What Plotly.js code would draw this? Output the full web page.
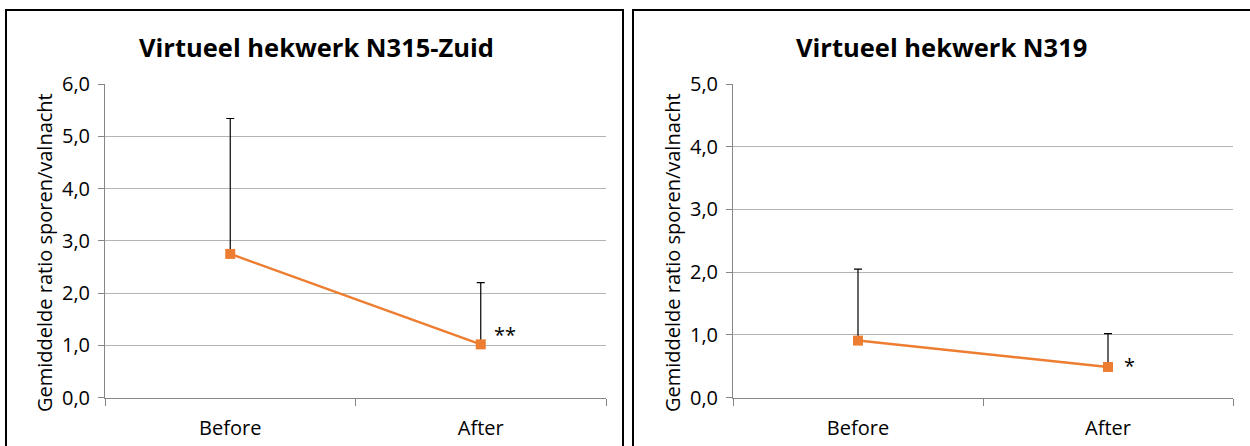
<!DOCTYPE html>
<html>
<head>
<meta charset="utf-8">
<script src="https://cdn.plot.ly/plotly-3.0.1.min.js"></script>
<style>
  html, body { margin: 0; padding: 0; background: #ffffff; }
  #chart { width: 1250px; height: 446px; }
</style>
</head>
<body>
<div id="chart"></div>
<script>
// Periods compared on both fences
const periods = ['Before', 'After'];

// Virtueel hekwerk N315-Zuid: mean ratio tracks / nights, with upper error
const n315Mean = [2.75, 1.02];
const n315ErrUp = [2.59, 1.18];
const n315Marks = ['', '**'];

// Virtueel hekwerk N319
const n319Mean = [0.91, 0.49];
const n319ErrUp = [1.14, 0.53];
const n319Marks = ['', '*'];

const panelTitles = ['Virtueel hekwerk N315-Zuid', 'Virtueel hekwerk N319'];
const yTitle = 'Gemiddelde ratio sporen/valnacht';
const yMax = [6, 5];

const W = 1250, H = 446;
const px = v => v / W;          // horizontal pixel -> paper
const py = v => (H - v) / H;    // vertical pixel (from top) -> paper

const FONT = '"Open Sans", "Noto Sans", sans-serif';
const ORANGE = '#ED7D31';

function seriesTrace(means, errs, xa, ya) {
  return {
    type: 'scatter', mode: 'lines+markers',
    x: periods, y: means, xaxis: xa, yaxis: ya,
    line: { color: ORANGE, width: 2.5 },
    marker: { symbol: 'square', size: 10, color: ORANGE },
    error_y: {
      type: 'data', symmetric: false, array: errs,
      arrayminus: errs.map(() => 0),
      color: '#000000', thickness: 1.2, width: 4
    },
    hoverinfo: 'x+y', showlegend: false, cliponaxis: false
  };
}

const traces = [
  seriesTrace(n315Mean, n315ErrUp, 'x', 'y'),
  seriesTrace(n319Mean, n319ErrUp, 'x2', 'y2')
];

function xAxis(domain, anchor) {
  return {
    domain: domain, anchor: anchor, type: 'category',
    range: [-0.5, 1.5], tickson: 'boundaries',
    ticks: 'outside', ticklen: 7, tickwidth: 1, tickcolor: '#868686',
    showline: true, linecolor: '#868686', linewidth: 1,
    showgrid: false, zeroline: false,
    tickfont: { family: FONT, size: 20, color: '#000000' },
    ticklabelstandoff: 12
  };
}

function yAxis(domain, anchor, top) {
  return {
    domain: domain, anchor: anchor, range: [0, top], dtick: 1,
    tickformat: '.1f',
    ticks: 'outside', ticklen: 6, tickwidth: 1, tickcolor: '#868686',
    showline: true, linecolor: '#868686', linewidth: 1,
    showgrid: true, gridcolor: '#b3b3b3', gridwidth: 1,
    zeroline: false,
    tickfont: { family: FONT, size: 20, color: '#000000' },
    ticklabelstandoff: 4
  };
}

const yDom = [py(397.7), py(84)];

function paperText(text, xPix, yPix, size, angle) {
  return { text: text, x: px(xPix), y: py(yPix), xref: 'paper', yref: 'paper',
    xanchor: 'center', yanchor: 'middle', textangle: angle || 0,
    showarrow: false, font: { family: FONT, size: size, color: '#000000' } };
}

const annotations = [
  // panel titles
  paperText('<b>' + panelTitles[0] + '</b>', 316, 47, 25.5),
  paperText('<b>' + panelTitles[1] + '</b>', 941, 47, 25.5),
  // y axis titles
  paperText(yTitle, 44, 253, 20, -90),
  paperText(yTitle, 672, 253, 20, -90)
];

// significance marks next to the points
n315Marks.forEach((m, i) => {
  if (m) annotations.push({ text: m, x: periods[i], y: n315Mean[i], xref: 'x', yref: 'y',
    xanchor: 'center', yanchor: 'middle',
    xshift: 24, yshift: 10, showarrow: false, font: { family: FONT, size: 20, color: '#000000' } });
});
n319Marks.forEach((m, i) => {
  if (m) annotations.push({ text: m, x: periods[i], y: n319Mean[i], xref: 'x2', yref: 'y2',
    xanchor: 'center', yanchor: 'middle',
    xshift: 21, yshift: 1, showarrow: false, font: { family: FONT, size: 20, color: '#000000' } });
});

// panel frames
const shapes = [
  { type: 'rect', xref: 'paper', yref: 'paper', x0: px(6), x1: px(623), y0: -0.1, y1: py(10),
    line: { color: '#000000', width: 2 }, fillcolor: 'rgba(0,0,0,0)' },
  { type: 'rect', xref: 'paper', yref: 'paper', x0: px(633), x1: 1.1, y0: -0.1, y1: py(10),
    line: { color: '#000000', width: 2 }, fillcolor: 'rgba(0,0,0,0)' }
];

const layout = {
  width: W, height: H,
  margin: { l: 0, r: 0, t: 0, b: 0 },
  paper_bgcolor: '#ffffff', plot_bgcolor: '#ffffff',
  separators: ',.',
  showlegend: false,
  xaxis: xAxis([px(105), px(606)], 'y'),
  yaxis: yAxis(yDom, 'x', yMax[0]),
  xaxis2: xAxis([px(733), px(1233)], 'y2'),
  yaxis2: yAxis(yDom, 'x2', yMax[1]),
  annotations: annotations,
  shapes: shapes
};

Plotly.newPlot('chart', traces, layout, { displayModeBar: false, staticPlot: true });
</script>
</body>
</html>
